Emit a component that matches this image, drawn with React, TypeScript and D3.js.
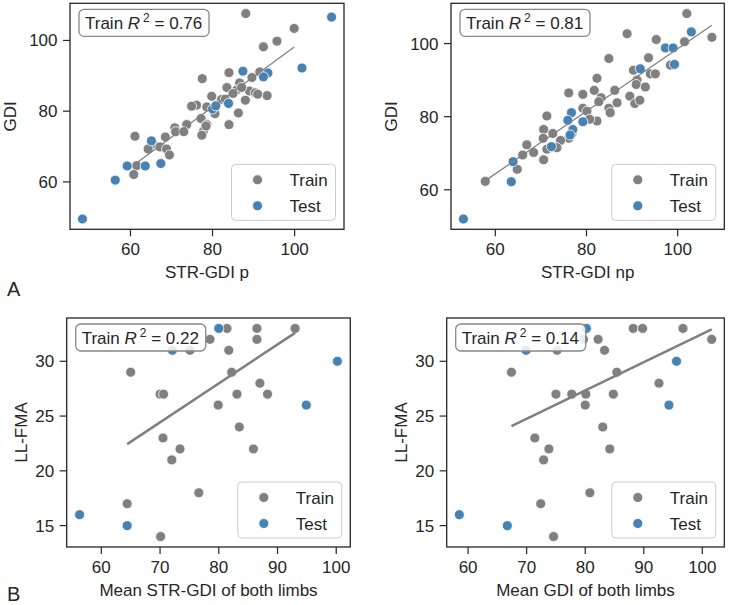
import React from "react";
import * as d3 from "d3";

const W = 744;
const H = 605;
const GRAY = "#808080";
const BLUE = "#4682b4";
const INK = "#262626";
const FONT = "'Liberation Sans', Arial, sans-serif";

// A, left: STR-GDI p against GDI
const a1TrainX = [88.1, 99.9, 95.7, 92.4, 77.5, 84.0, 89.6, 91.5, 86.6, 83.5, 85.8, 85.0, 89.0, 90.4, 93.3, 88.0, 82.2, 79.8, 76.1, 74.9, 78.6, 80.6, 86.3, 77.2, 84.0, 78.6, 73.7, 70.8, 71.0, 73.0, 77.8, 77.4, 68.5, 61.1, 65.5, 64.3, 67.2, 68.8, 69.5, 61.5, 60.8, 87.1, 78.4, 83.1, 91.0];
const a1TrainY = [107.6, 103.4, 99.8, 98.2, 89.2, 90.9, 89.5, 91.1, 88.0, 86.7, 85.9, 85.0, 85.7, 85.2, 84.4, 83.1, 83.3, 84.2, 81.7, 81.4, 81.2, 79.3, 79.5, 77.9, 76.2, 76.2, 76.2, 75.3, 74.2, 74.2, 74.4, 73.2, 72.7, 72.9, 70.7, 69.3, 69.9, 69.3, 67.6, 64.6, 62.1, 86.7, 75.8, 83.4, 84.8];
const a1TestX = [109.0, 101.8, 87.4, 93.5, 92.4, 80.0, 80.8, 83.9, 65.1, 59.2, 63.6, 67.4, 56.3, 48.3];
const a1TestY = [106.6, 92.2, 91.3, 90.8, 89.7, 80.6, 81.5, 82.2, 71.6, 64.5, 64.5, 65.2, 60.5, 49.5];

// A, right: STR-GDI np against GDI
const a2TrainX = [102.0, 107.5, 101.5, 88.9, 95.3, 93.6, 84.9, 90.3, 94.0, 95.1, 91.1, 90.9, 92.9, 98.4, 82.3, 81.7, 86.2, 79.2, 76.1, 83.2, 89.5, 90.6, 91.7, 86.7, 82.7, 84.9, 85.2, 79.2, 80.1, 82.3, 80.7, 71.3, 70.6, 72.6, 70.5, 76.1, 74.3, 76.8, 71.9, 66.9, 66.0, 68.4, 70.6, 64.8, 57.8, 73.5, 71.3];
const a2TrainY = [108.2, 101.7, 100.5, 102.7, 101.1, 96.1, 95.9, 92.7, 91.7, 91.7, 90.0, 88.8, 88.1, 94.1, 90.5, 87.2, 87.2, 86.1, 86.5, 85.2, 85.6, 83.6, 84.5, 83.8, 84.1, 82.3, 81.1, 82.3, 81.5, 78.8, 79.3, 80.2, 76.5, 75.4, 74.1, 74.1, 73.5, 75.4, 71.5, 72.3, 69.5, 70.2, 68.2, 65.6, 62.3, 71.5, 71.1];
const a2TestX = [103.0, 97.3, 99.0, 99.3, 91.8, 76.7, 75.9, 79.2, 77.0, 76.4, 72.3, 63.9, 63.5, 53.0];
const a2TestY = [103.2, 98.8, 98.8, 94.3, 93.1, 81.1, 79.0, 78.6, 76.5, 75.0, 71.8, 67.7, 62.2, 52.0];

// B, left: mean STR-GDI of both limbs against LL-FMA
const b1TrainX = [65.0, 70.0, 70.6, 70.5, 73.4, 72.0, 79.9, 81.4, 78.5, 81.7, 82.2, 83.1, 83.5, 86.5, 86.5, 87.0, 88.3, 85.9, 93.0, 75.1, 64.4, 70.1, 76.6];
const b1TrainY = [29, 27, 27, 23, 22, 21, 26, 33, 32, 31, 29, 27, 24, 33, 32, 28, 27, 22, 33, 31, 17, 14, 18];
const b1TestX = [80.0, 72.1, 100.2, 94.9, 56.3, 64.4];
const b1TestY = [33, 31, 30, 26, 16, 15];

// B, right: mean GDI of both limbs against LL-FMA
const b2TrainX = [67.4, 71.4, 73.8, 72.9, 75.0, 77.7, 80.1, 80.0, 79.7, 82.2, 83.3, 85.4, 84.8, 83.0, 84.2, 88.2, 89.8, 96.7, 101.6, 92.6, 75.2, 72.4, 74.6, 80.8];
const b2TrainY = [29, 23, 22, 21, 27, 27, 27, 26, 32, 32, 31, 29, 27, 24, 22, 33, 33, 33, 32, 28, 31, 17, 14, 18];
const b2TestX = [80.2, 69.9, 95.6, 94.3, 58.5, 66.7];
const b2TestY = [33, 31, 30, 26, 16, 15];

const gdiTicks = [60, 80, 100];
const fmaXTicks = [60, 70, 80, 90, 100];
const fmaYTicks = [15, 20, 25, 30];

// fitted line on the training set: slope, intercept
const a1Fit = [0.853, 12.94];
const a2Fit = [0.855, 13.08];
const b1Fit = [0.355, -0.42];
const b2Fit = [0.258, 6.69];

const r2Values = ["0.76", "0.81", "0.22", "0.14"];

function padded(vals: number[]): [number, number] {
  const [lo, hi] = d3.extent(vals) as [number, number];
  const m = (hi - lo) * 0.05;
  return [lo - m, hi + m];
}

type Frame = { left: number; top: number; right: number; bottom: number };

function Panel(props: {
  frame: Frame;
  trainX: number[];
  trainY: number[];
  testX: number[];
  testY: number[];
  xTicks: number[];
  yTicks: number[];
  xLabel: string;
  yLabel: string;
  yLabelX: number;
  r2: string;
  fit: number[];
  fitWidth: number;
}) {
  const { frame, trainX, trainY, testX, testY, xTicks, yTicks, fit } = props;
  const x = d3.scaleLinear().domain(padded(trainX.concat(testX))).range([frame.left, frame.right]);
  const y = d3.scaleLinear().domain(padded(trainY.concat(testY))).range([frame.bottom, frame.top]);

  const [fx0, fx1] = d3.extent(trainX) as [number, number];
  const fitPath = d3.line<number>()
    .x(v => x(v))
    .y(v => y(fit[1] + fit[0] * v))([fx0, fx1]);

  const legW = 104, legH = 56;
  const legX = frame.right - 8.5 - legW;
  const legY = frame.bottom - 9 - legH;
  const boxX = frame.left + 9;
  const boxY = frame.top + 6;

  return (
    <g fontFamily={FONT} fill={INK}>
      {trainX.map((v, i) => (
        <circle key={"tr" + i} cx={x(v)} cy={y(trainY[i])} r={5} fill={GRAY} stroke="#fff" strokeWidth={0.8} />
      ))}
      {testX.map((v, i) => (
        <circle key={"te" + i} cx={x(v)} cy={y(testY[i])} r={5} fill={BLUE} stroke="#fff" strokeWidth={0.8} />
      ))}
      <path d={fitPath || ""} stroke={GRAY} strokeWidth={props.fitWidth} fill="none" />

      <rect x={frame.left} y={frame.top} width={frame.right - frame.left} height={frame.bottom - frame.top}
        fill="none" stroke={INK} strokeWidth={1.3} />

      {xTicks.map(t => (
        <g key={"xt" + t}>
          <line x1={x(t)} x2={x(t)} y1={frame.bottom} y2={frame.bottom + 7} stroke={INK} strokeWidth={1.2} />
          <text x={x(t)} y={frame.bottom + 26} textAnchor="middle" fontSize={17}>{t}</text>
        </g>
      ))}
      {yTicks.map(t => (
        <g key={"yt" + t}>
          <line x1={frame.left - 7} x2={frame.left} y1={y(t)} y2={y(t)} stroke={INK} strokeWidth={1.2} />
          <text x={frame.left - 12.5} y={y(t) + 6} textAnchor="end" fontSize={17}>{t}</text>
        </g>
      ))}
      <text x={(frame.left + frame.right) / 2} y={frame.bottom + 48.5} textAnchor="middle" fontSize={17}>
        {props.xLabel}
      </text>
      <text transform={`translate(${props.yLabelX},${(frame.top + frame.bottom) / 2}) rotate(-90)`}
        textAnchor="middle" fontSize={17}>
        {props.yLabel}
      </text>

      <rect x={boxX} y={boxY} width={130} height={27} rx={5} fill="#fff" fillOpacity={0.85}
        stroke="#888" strokeWidth={1.3} />
      <text x={boxX + 6} y={boxY + 19.5} fontSize={17}>
        <tspan>Train </tspan>
        <tspan fontStyle="italic">R</tspan>
        <tspan dx={3} dy={-7} fontSize={12}>2</tspan>
        <tspan dy={7}>{" = " + props.r2}</tspan>
      </text>

      <rect x={legX} y={legY} width={legW} height={legH} rx={4} fill="#fff" fillOpacity={0.8}
        stroke="#cccccc" strokeWidth={1} />
      <circle cx={legX + 26} cy={legY + 15.5} r={5} fill={GRAY} stroke="#fff" strokeWidth={0.8} />
      <text x={legX + 58} y={legY + 21.5} fontSize={17}>Train</text>
      <circle cx={legX + 26} cy={legY + 41.5} r={5} fill={BLUE} stroke="#fff" strokeWidth={0.8} />
      <text x={legX + 58} y={legY + 47.5} fontSize={17}>Test</text>
    </g>
  );
}

export default function App() {
  return (
    <svg width={W} height={H} style={{ position: "absolute", left: 0, top: 0, background: "#fff" }}>
      <Panel frame={{ left: 70, top: 3.3, right: 344, bottom: 229.3 }}
        trainX={a1TrainX} trainY={a1TrainY} testX={a1TestX} testY={a1TestY}
        xTicks={gdiTicks} yTicks={gdiTicks} xLabel="STR-GDI p" yLabel="GDI" yLabelX={16}
        r2={r2Values[0]} fit={a1Fit} fitWidth={1.3} />
      <Panel frame={{ left: 451, top: 3.3, right: 724.3, bottom: 229.3 }}
        trainX={a2TrainX} trainY={a2TrainY} testX={a2TestX} testY={a2TestY}
        xTicks={gdiTicks} yTicks={gdiTicks} xLabel="STR-GDI np" yLabel="GDI" yLabelX={396.5}
        r2={r2Values[1]} fit={a2Fit} fitWidth={1.3} />
      <Panel frame={{ left: 66.7, top: 318, right: 350.3, bottom: 547 }}
        trainX={b1TrainX} trainY={b1TrainY} testX={b1TestX} testY={b1TestY}
        xTicks={fmaXTicks} yTicks={fmaYTicks} xLabel="Mean STR-GDI of both limbs" yLabel="LL-FMA" yLabelX={26.5}
        r2={r2Values[2]} fit={b1Fit} fitWidth={2.5} />
      <Panel frame={{ left: 446.7, top: 318, right: 724.3, bottom: 547 }}
        trainX={b2TrainX} trainY={b2TrainY} testX={b2TestX} testY={b2TestY}
        xTicks={fmaXTicks} yTicks={fmaYTicks} xLabel="Mean GDI of both limbs" yLabel="LL-FMA" yLabelX={406.5}
        r2={r2Values[3]} fit={b2Fit} fitWidth={2.5} />
      <text x={7} y={296} fontFamily={FONT} fontSize={20} fill={INK}>A</text>
      <text x={7} y={601} fontFamily={FONT} fontSize={20} fill={INK}>B</text>
    </svg>
  );
}
